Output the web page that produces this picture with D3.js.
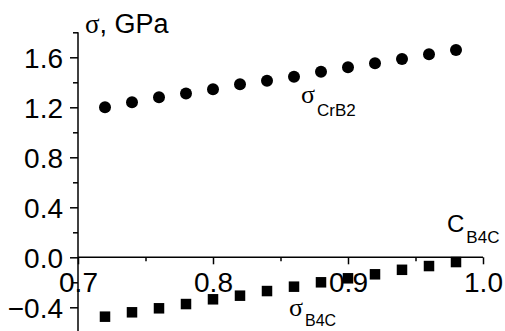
<!DOCTYPE html>
<html>
<head>
<meta charset="utf-8">
<script src="https://cdn.jsdelivr.net/npm/d3@7"></script>
<style>
	html, body { margin: 0; padding: 0; background: #fff; }
	svg { display: block; }
	.tick-label { font-family: "Liberation Sans", Arial, sans-serif; font-size: 28px; fill: #000; }
	.sans { font-family: "Liberation Sans", Arial, sans-serif; fill: #000; }
	.serif { font-family: "Liberation Serif", "Times New Roman", serif; fill: #000; }
</style>
</head>
<body>
<div id="plot"></div>
<script>
// composition C(B4C) and residual stress values
const cB4C = [0.72, 0.74, 0.76, 0.78, 0.80, 0.82, 0.84, 0.86, 0.88, 0.90, 0.92, 0.94, 0.96, 0.98];
const sigmaCrB2 = [1.20, 1.24, 1.28, 1.31, 1.344, 1.384, 1.413, 1.445, 1.485, 1.52, 1.552, 1.586, 1.624, 1.658];
const sigmaB4C = [-0.475, -0.44, -0.408, -0.374, -0.336, -0.307, -0.27, -0.235, -0.2, -0.168, -0.136, -0.1, -0.07, -0.038];

const xMajor = [0.7, 0.8, 0.9, 1.0];
const xMinor = [0.75, 0.85, 0.95];
const yMajor = [-0.4, 0.0, 0.4, 0.8, 1.2, 1.6];
const yMinor = [-0.2, 0.2, 0.6, 1.0, 1.4, 1.8];

const width = 505, height = 331;
const radius = 6, sq = 10.5;

const svg = d3.select("#plot").append("svg")
	.attr("width", width)
	.attr("height", height);

const x = d3.scaleLinear().domain([0.7, 1.0]).range([78, 483]);
const y = d3.scaleLinear().domain([-0.6, 1.8]).range([332.3, 32.3]);

// y axis, ticks point outwards (left)
const yAxis = d3.axisLeft(y)
	.tickValues(yMajor)
	.tickSize(8)
	.tickPadding(7)
	.tickFormat(d3.format(".1f"));

const gY = svg.append("g")
	.attr("transform", `translate(${x(0.7)},0)`)
	.call(yAxis);

gY.selectAll(".tick text")
	.attr("class", "tick-label")
	.attr("font-family", null)
	.attr("font-size", null)
	.attr("dy", "0.36em");

svg.append("g")
	.attr("transform", `translate(${x(0.7)},0)`)
	.call(d3.axisLeft(y).tickValues(yMinor).tickSize(5).tickFormat(() => ""))
	.select(".domain").remove();

// x axis sits on y = 0, ticks point down
const xAxis = d3.axisBottom(x)
	.tickValues(xMajor)
	.tickSize(7)
	.tickPadding(8)
	.tickFormat(d3.format(".1f"));

const gX = svg.append("g")
	.attr("transform", `translate(0,${y(0)})`)
	.call(xAxis);

gX.selectAll(".tick text")
	.attr("class", "tick-label")
	.attr("font-family", null)
	.attr("font-size", null)
	.attr("dy", "0.71em");

svg.append("g")
	.attr("transform", `translate(0,${y(0)})`)
	.call(d3.axisBottom(x).tickValues(xMinor).tickSize(4).tickFormat(() => ""))
	.select(".domain").remove();

svg.selectAll(".domain, .tick line")
	.attr("stroke", "#000")
	.attr("stroke-width", 1.5);

gX.select(".domain").attr("d", `M${x(0.7)},0H${x(1.0)}`);
gY.select(".domain").attr("d", `M0,${y(1.8)}V${y(-0.6)}`);

// data points
svg.append("g").selectAll("circle")
	.data(cB4C.map((c, i) => ({ c: c, v: sigmaCrB2[i] })))
	.join("circle")
	.attr("cx", d => x(d.c))
	.attr("cy", d => y(d.v))
	.attr("r", radius)
	.attr("fill", "#000");

svg.append("g").selectAll("rect")
	.data(cB4C.map((c, i) => ({ c: c, v: sigmaB4C[i] })))
	.join("rect")
	.attr("x", d => x(d.c) - sq / 2)
	.attr("y", d => y(d.v) - sq / 2)
	.attr("width", sq)
	.attr("height", sq)
	.attr("fill", "#000");

// labels
function subLabel(px, py, main, sub, mainClass, mainSize, subSize, subDy) {
	const t = svg.append("text")
		.attr("x", px)
		.attr("y", py);
	t.append("tspan")
		.attr("class", mainClass)
		.attr("font-size", mainSize)
		.text(main);
	t.append("tspan")
		.attr("class", "sans")
		.attr("font-size", subSize)
		.attr("dx", 2)
		.attr("dy", subDy)
		.text(sub);
}

// title
const title = svg.append("text").attr("x", 85).attr("y", 33);
title.append("tspan").attr("class", "serif").attr("font-size", 27).text("σ");
title.append("tspan").attr("class", "sans").attr("font-size", 27).text(", GPa");

subLabel(447, 232, "C", "B4C", "sans", 24, 17, 11);
subLabel(301, 103, "σ", "CrB2", "serif", 26, 17, 13);
// kept just inside the bottom edge so the subscript is not clipped
subLabel(289, 316, "σ", "B4C", "serif", 26, 16, 10);
</script>
</body>
</html>
